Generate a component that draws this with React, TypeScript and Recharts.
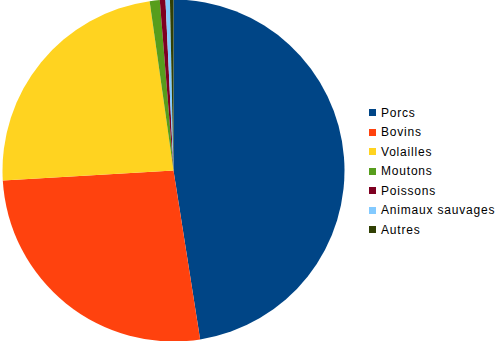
import { PieChart, Pie, Cell, Legend } from "recharts";

const categories = [
  "Porcs",
  "Bovins",
  "Volailles",
  "Moutons",
  "Poissons",
  "Animaux sauvages",
  "Autres",
];
const shares = [47.5, 26.55, 23.7, 0.95, 0.53, 0.42, 0.33];
const colors = [
  "#004586",
  "#ff420e",
  "#ffd320",
  "#579d1c",
  "#7e0021",
  "#83caff",
  "#314004",
];

const data = categories.map((name, i) => ({ name, value: shares[i] }));

function LegendList() {
  return (
    <div
      style={{
        fontFamily: "'Liberation Sans', Arial, sans-serif",
        fontSize: 12,
        letterSpacing: 0.8,
      }}
    >
      {categories.map((c, i) => (
        <div
          key={c}
          style={{ display: "flex", alignItems: "center", height: 19.5, color: "#000" }}
        >
          <span
            style={{
              display: "inline-block",
              width: 7,
              height: 7,
              background: colors[i],
              marginRight: 5,
            }}
          />
          {c}
        </div>
      ))}
    </div>
  );
}

export default function App() {
  return (
    <div style={{ position: "absolute", left: 0, top: 0, width: 497, height: 341, background: "#fff" }}>
      <PieChart width={497} height={341} margin={{ top: 0, right: 0, bottom: 0, left: 0 }}>
        <Pie
          data={data}
          dataKey="value"
          nameKey="name"
          cx={173.5}
          cy={170.5}
          outerRadius={171}
          startAngle={90}
          endAngle={-270}
          stroke="none"
          isAnimationActive={false}
        >
          {data.map((d, i) => (
            <Cell key={d.name} fill={colors[i]} />
          ))}
        </Pie>
        <Legend
          layout="vertical"
          align="right"
          verticalAlign="middle"
          content={() => <LegendList />}
          wrapperStyle={{ left: 369, top: 103, width: 128 }}
        />
      </PieChart>
    </div>
  );
}
